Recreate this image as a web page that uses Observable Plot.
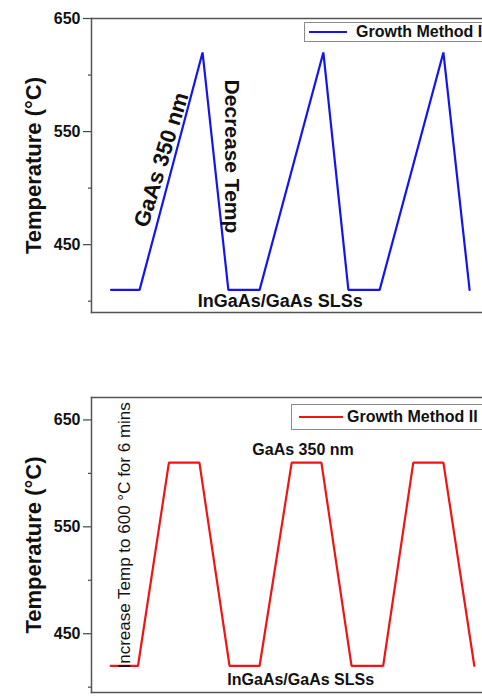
<!DOCTYPE html>
<html><head><meta charset="utf-8">
<script src="https://cdn.jsdelivr.net/npm/d3@7"></script>
<script src="https://cdn.jsdelivr.net/npm/@observablehq/plot@0.6"></script>
<style>
body{margin:0;background:#fff;}
#wrap{position:relative;width:482px;height:696px;overflow:hidden;font-family:"Liberation Sans",Arial,sans-serif;}
.panel{position:absolute;left:0;}
.legend{position:absolute;box-sizing:border-box;border:1px solid #8a8a8a;background:#fff;display:flex;align-items:center;white-space:nowrap;font-weight:bold;font-size:16px;color:#111;width:320px}
.legend .sw{display:inline-block;height:0;border-top:2px solid;}
</style></head><body><div id="wrap"></div>
<script>
// ---- data ----
const seriesNames = ["Growth Method I", "Growth Method II"];
const seriesColors = ["#1414f0", "#f01414"];
const time1 = [5, 12.3, 28.4, 35, 43, 59.3, 65.7, 73.7, 90, 96.7];
const temp1 = [410, 410, 620, 410, 410, 620, 410, 410, 620, 410];
const time2 = [4.9, 11.9, 19.8, 27.6, 35.3, 43.0, 51.2, 58.8, 66.5, 74.6, 82.3, 90.0, 97.9];
const temp2 = [420, 420, 610, 610, 420, 420, 610, 610, 420, 420, 610, 610, 420];
const majorTicks = [450, 550, 650];
const minorTicks = [400, 500, 600];
const yLabel = "Temperature (°C)";
const notes1Text = ["GaAs 350 nm", "Decrease Temp", "InGaAs/GaAs SLSs"];
const notes1X = [17.9, 35.8, 48.3];
const notes1Y = [525, 528, 400];
const notes2Text = ["Increase Temp to 600 °C for 6 mins", "GaAs 350 nm", "InGaAs/GaAs SLSs"];
const notes2X = [8.4, 54.1, 53.5];
const notes2Y = [542, 622, 407];

const font = "'Liberation Sans', Arial, sans-serif";
const wrap = document.getElementById("wrap");

function note(text, x, y, opts) {
  return Plot.text([{text, x, y}], {x: "x", y: "y", text: "text", fill: "#111", fontFamily: font, ...opts});
}

function panel({time, temp, color, domain, height, marginTop, marginBottom, notes}) {
  const data = time.map((t, i) => ({t, v: temp[i]}));
  return Plot.plot({
    width: 482, height, marginLeft: 91, marginRight: 0, marginTop, marginBottom,
    style: {fontFamily: font, color: "#111", background: "transparent", overflow: "visible"},
    x: {domain: [0, 100], axis: null},
    y: {domain},
    marks: [
      Plot.axisY({ticks: minorTicks, tickSize: 3, tickFormat: () => "", label: null, stroke: "#444", strokeWidth: 1.2}),
      Plot.axisY({ticks: majorTicks, tickSize: 8, tickPadding: 3, fontSize: 16, fontWeight: "bold", label: null, stroke: "#444", strokeWidth: 1.2}),
      Plot.axisY({ticks: [], label: yLabel, labelAnchor: "center", labelArrow: "none", labelOffset: 66, fontSize: 22, fontWeight: "bold"}),
      Plot.frame({anchor: "top", stroke: "#555", strokeWidth: 1.5}),
      Plot.frame({anchor: "bottom", stroke: "#555", strokeWidth: 1.5}),
      Plot.frame({anchor: "left", stroke: "#555", strokeWidth: 1.5}),
      Plot.line(data, {x: "t", y: "v", stroke: color, strokeWidth: 2.2, strokeLinejoin: "miter"}),
      ...notes
    ]
  });
}

const p1 = panel({
  time: time1, temp: temp1, color: seriesColors[0], domain: [390, 650],
  height: 360, marginTop: 18, marginBottom: 48,
  notes: [
    note(notes1Text[0], notes1X[0], notes1Y[0], {rotate: -73, fontSize: 22, fontWeight: "bold"}),
    note(notes1Text[1], notes1X[1], notes1Y[1], {rotate: 90, fontSize: 21, fontWeight: "bold"}),
    note(notes1Text[2], notes1X[2], notes1Y[2], {fontSize: 18, fontWeight: "bold"})
  ]
});
p1.classList.add("panel"); p1.style.top = "0px";
wrap.appendChild(p1);

const p2 = panel({
  time: time2, temp: temp2, color: seriesColors[1], domain: [395, 671],
  height: 336, marginTop: 37, marginBottom: 4,
  notes: [
    note(notes2Text[0], notes2X[0], notes2Y[0], {rotate: -90, fontSize: 17}),
    note(notes2Text[1], notes2X[1], notes2Y[1], {fontSize: 16, fontWeight: "bold"}),
    note(notes2Text[2], notes2X[2], notes2Y[2], {fontSize: 16, fontWeight: "bold"})
  ]
});
p2.classList.add("panel"); p2.style.top = "360px";
wrap.appendChild(p2);

// legends
const legendBoxes = [
  {left: 304, top: 22, h: 20, padL: 4, sw: 38, gap: 9},
  {left: 291, top: 404, h: 26, padL: 7, sw: 44, gap: 4}
];
legendBoxes.forEach((b, i) => {
  const d = document.createElement("div");
  d.className = "legend";
  d.style.left = b.left + "px"; d.style.top = b.top + "px"; d.style.height = b.h + "px";
  d.style.paddingLeft = b.padL + "px";
  const s = document.createElement("span");
  s.className = "sw"; s.style.width = b.sw + "px"; s.style.borderTopColor = seriesColors[i];
  s.style.marginRight = b.gap + "px";
  const t = document.createElement("span");
  t.textContent = seriesNames[i];
  d.appendChild(s); d.appendChild(t);
  wrap.appendChild(d);
});
</script></body></html>
